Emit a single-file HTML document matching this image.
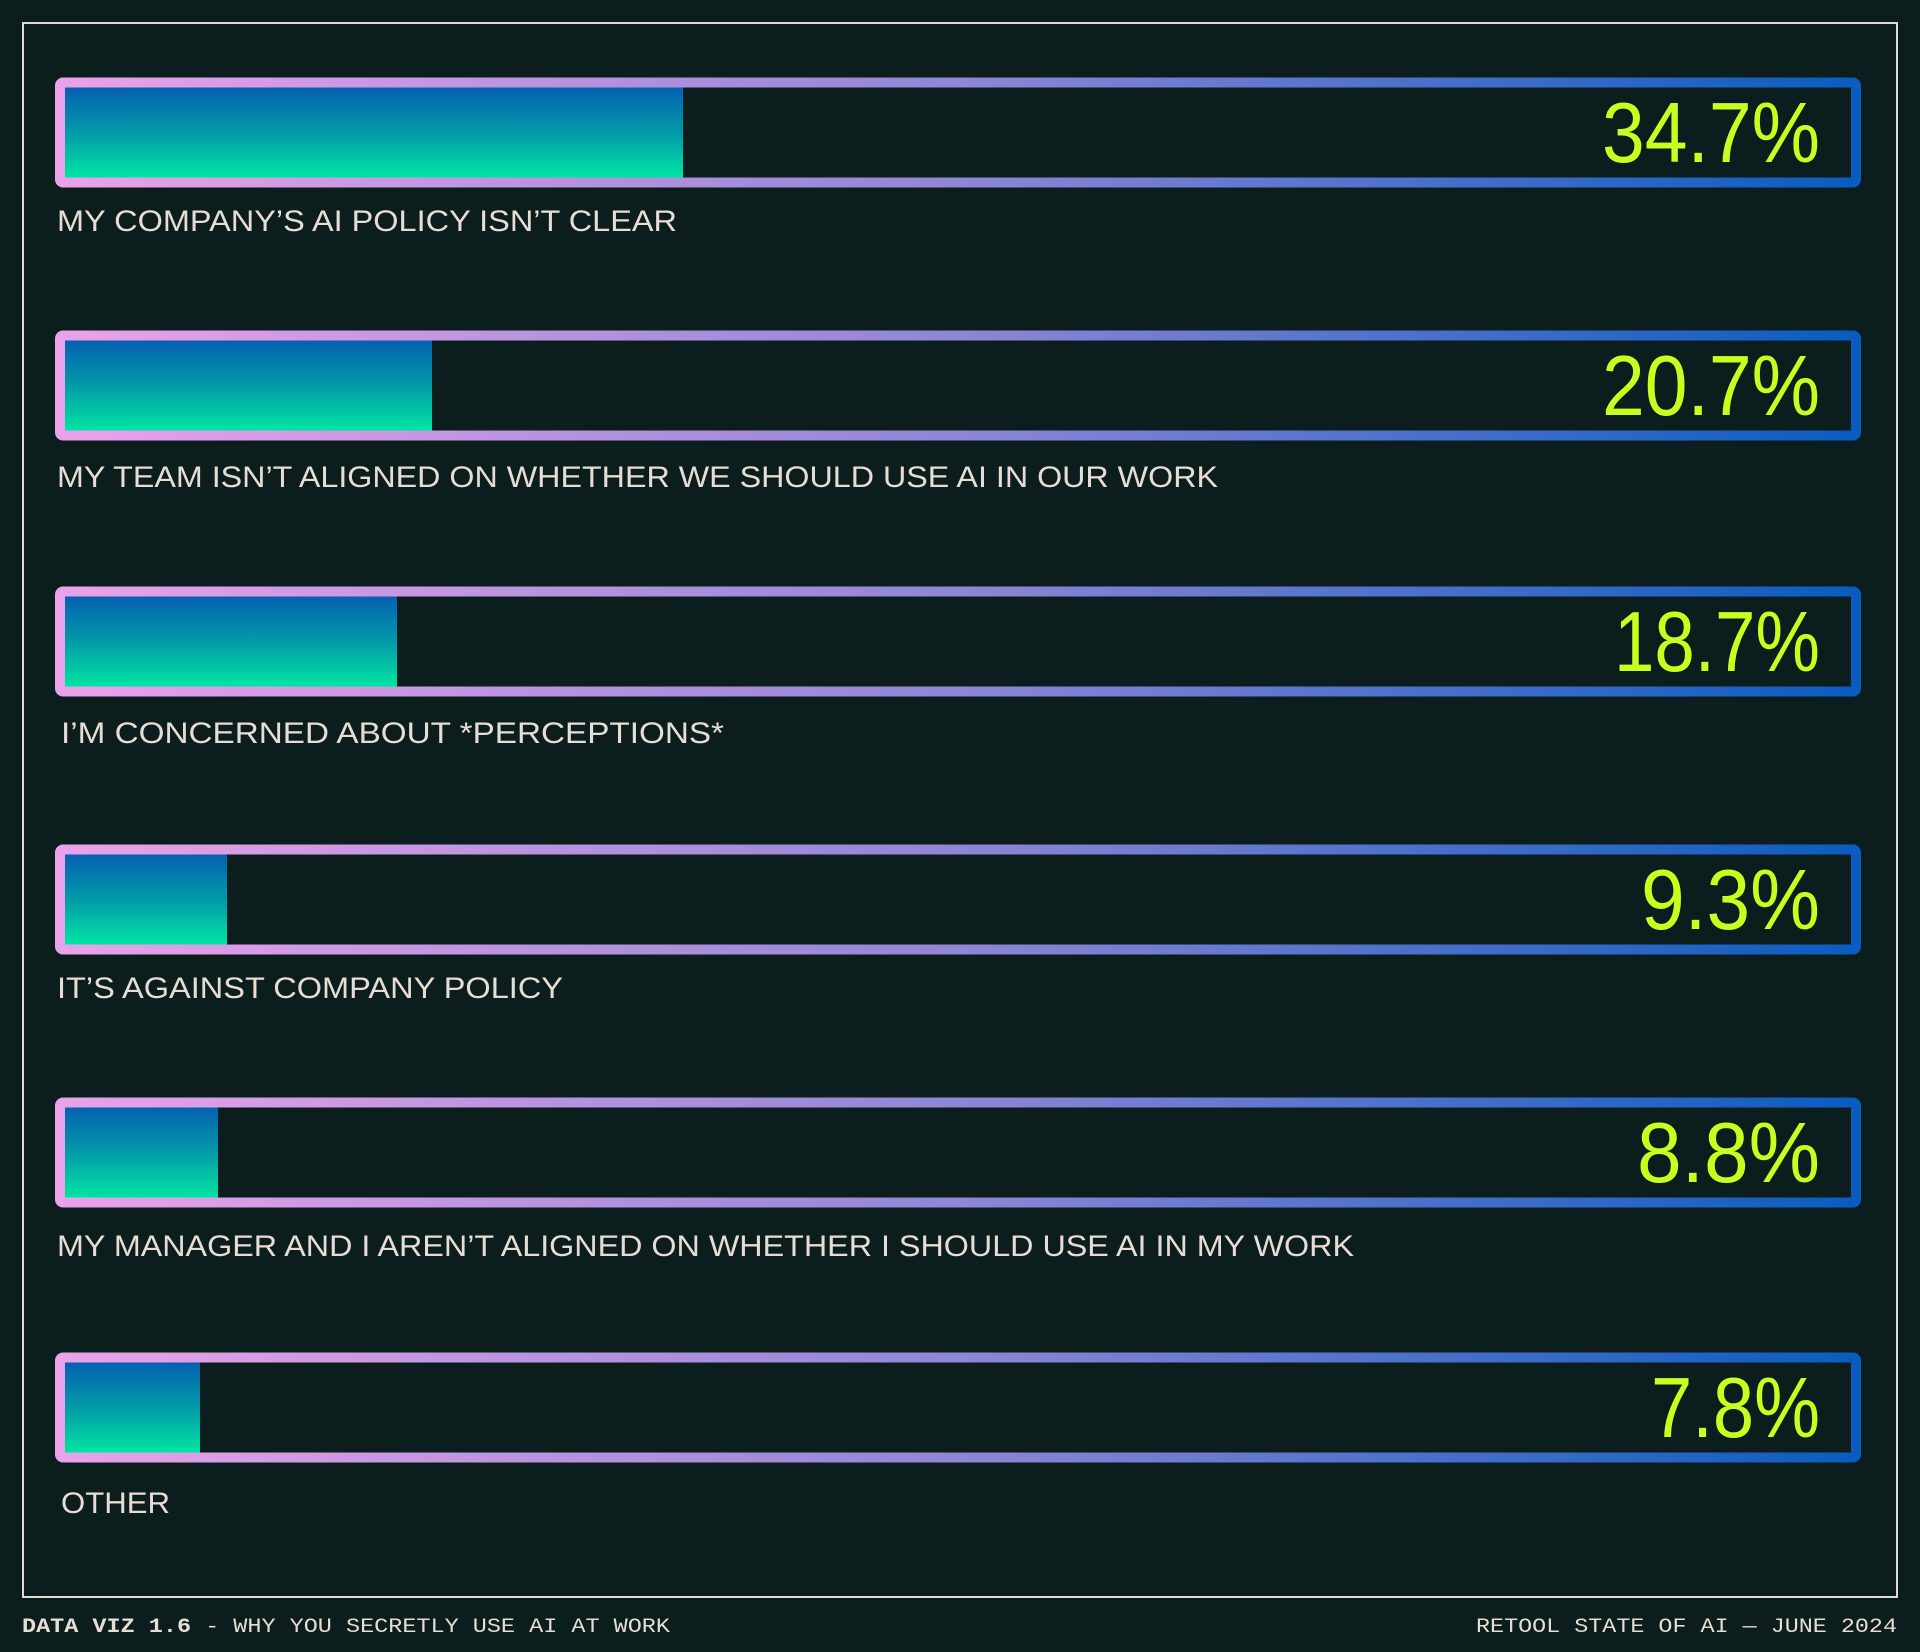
<!DOCTYPE html>
<html><head><meta charset="utf-8"><style>
html,body{margin:0;padding:0;background:#0b1d1d;}
svg{display:block;}
</style></head><body>
<svg width="1920" height="1652" viewBox="0 0 1920 1652" xmlns="http://www.w3.org/2000/svg">
<defs>
<linearGradient id="bd" x1="0" y1="0" x2="1" y2="0">
<stop offset="0" stop-color="#eaa2ea"/><stop offset="0.5" stop-color="#8f86d6"/><stop offset="1" stop-color="#0a5cc0"/>
</linearGradient>
<linearGradient id="fl" x1="0" y1="0" x2="0" y2="1">
<stop offset="0" stop-color="#0560b0"/><stop offset="0.5" stop-color="#039aa8"/><stop offset="1" stop-color="#00e6a2"/>
</linearGradient>
</defs>
<rect width="1920" height="1652" fill="#0b1d1d"/>
<rect x="23" y="23" width="1874" height="1574" fill="none" stroke="#e2dad0" stroke-width="2"/>
<g font-family="Liberation Sans, sans-serif">
<!-- bar template: top y -->
<g transform="translate(0,78)">
<rect x="65" y="9" width="618" height="91" fill="url(#fl)"/>
<rect x="60" y="4.5" width="1796" height="100" rx="3" fill="none" stroke="url(#bd)" stroke-width="10"/>
<text x="1602" y="84" font-size="85" fill="#c8ff1e" textLength="218" lengthAdjust="spacingAndGlyphs">34.7%</text>
<text x="57" y="153" font-size="30" fill="#e8ddd4" textLength="620" lengthAdjust="spacingAndGlyphs">MY COMPANY’S AI POLICY ISN’T CLEAR</text>
</g>
<g transform="translate(0,331)">
<rect x="65" y="9" width="367" height="91" fill="url(#fl)"/>
<rect x="60" y="4.5" width="1796" height="100" rx="3" fill="none" stroke="url(#bd)" stroke-width="10"/>
<text x="1602" y="84" font-size="85" fill="#c8ff1e" textLength="218" lengthAdjust="spacingAndGlyphs">20.7%</text>
<text x="57" y="156" font-size="30" fill="#e8ddd4" textLength="1161" lengthAdjust="spacingAndGlyphs">MY TEAM ISN’T ALIGNED ON WHETHER WE SHOULD USE AI IN OUR WORK</text>
</g>
<g transform="translate(0,587)">
<rect x="65" y="9" width="332" height="91" fill="url(#fl)"/>
<rect x="60" y="4.5" width="1796" height="100" rx="3" fill="none" stroke="url(#bd)" stroke-width="10"/>
<text x="1614" y="84" font-size="85" fill="#c8ff1e" textLength="206" lengthAdjust="spacingAndGlyphs">18.7%</text>
<text x="61" y="156" font-size="30" fill="#e8ddd4" textLength="663" lengthAdjust="spacingAndGlyphs">I’M CONCERNED ABOUT *PERCEPTIONS*</text>
</g>
<g transform="translate(0,845)">
<rect x="65" y="9" width="162" height="91" fill="url(#fl)"/>
<rect x="60" y="4.5" width="1796" height="100" rx="3" fill="none" stroke="url(#bd)" stroke-width="10"/>
<text x="1641" y="84" font-size="85" fill="#c8ff1e" textLength="179" lengthAdjust="spacingAndGlyphs">9.3%</text>
<text x="57" y="153" font-size="30" fill="#e8ddd4" textLength="506" lengthAdjust="spacingAndGlyphs">IT’S AGAINST COMPANY POLICY</text>
</g>
<g transform="translate(0,1098)">
<rect x="65" y="9" width="153" height="91" fill="url(#fl)"/>
<rect x="60" y="4.5" width="1796" height="100" rx="3" fill="none" stroke="url(#bd)" stroke-width="10"/>
<text x="1637" y="84" font-size="85" fill="#c8ff1e" textLength="183" lengthAdjust="spacingAndGlyphs">8.8%</text>
<text x="57" y="158" font-size="30" fill="#e8ddd4" textLength="1297" lengthAdjust="spacingAndGlyphs">MY MANAGER AND I AREN’T ALIGNED ON WHETHER I SHOULD USE AI IN MY WORK</text>
</g>
<g transform="translate(0,1353)">
<rect x="65" y="9" width="135" height="91" fill="url(#fl)"/>
<rect x="60" y="4.5" width="1796" height="100" rx="3" fill="none" stroke="url(#bd)" stroke-width="10"/>
<text x="1651" y="84" font-size="85" fill="#c8ff1e" textLength="169" lengthAdjust="spacingAndGlyphs">7.8%</text>
<text x="61" y="160" font-size="30" fill="#e8ddd4" textLength="109" lengthAdjust="spacingAndGlyphs">OTHER</text>
</g>
</g>
<g font-family="Liberation Mono, monospace" font-size="20" fill="#e8ddd4">
<text x="22" y="1632" textLength="648" lengthAdjust="spacingAndGlyphs"><tspan font-weight="bold">DATA VIZ 1.6</tspan> - WHY YOU SECRETLY USE AI AT WORK</text>
<text x="1476" y="1632" textLength="421" lengthAdjust="spacingAndGlyphs">RETOOL STATE OF AI — JUNE 2024</text>
</g>
</svg>
</body></html>
